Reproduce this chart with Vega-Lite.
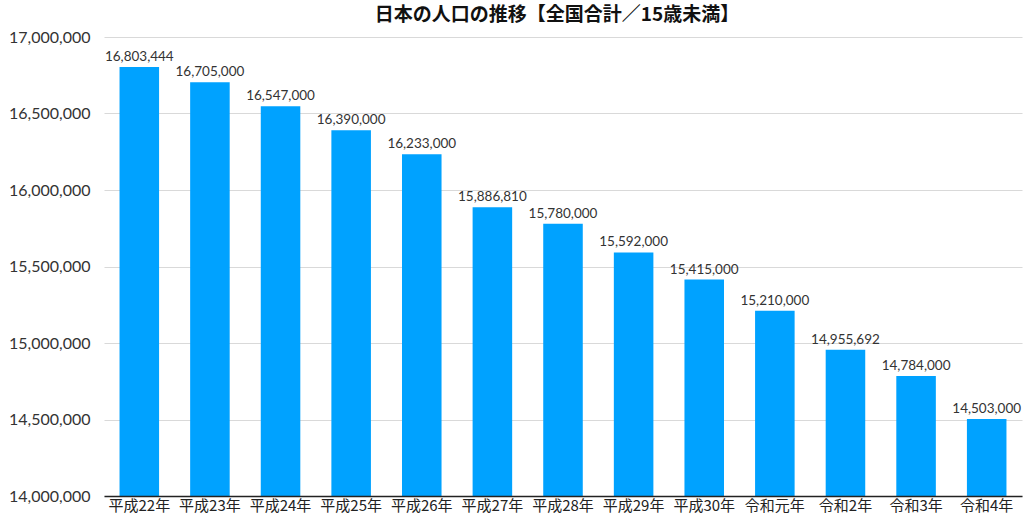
{
  "$schema": "https://vega.github.io/schema/vega-lite/v6.json",
  "width": 918,
  "height": 459,
  "autosize": {"type": "none"},
  "padding": {"left": 104, "top": 37, "right": 2, "bottom": 20},
  "background": "white",
  "title": {
    "text": "日本の人口の推移【全国合計／15歳未満】",
    "font": "Noto Sans CJK JP",
    "fontSize": 19,
    "fontWeight": "bold",
    "color": "#111",
    "anchor": "middle",
    "frame": "group",
    "dx": -6,
    "offset": 4
  },
  "data": {
    "values": [
      {"year": "平成22年", "pop": 16803444},
      {"year": "平成23年", "pop": 16705000},
      {"year": "平成24年", "pop": 16547000},
      {"year": "平成25年", "pop": 16390000},
      {"year": "平成26年", "pop": 16233000},
      {"year": "平成27年", "pop": 15886810},
      {"year": "平成28年", "pop": 15780000},
      {"year": "平成29年", "pop": 15592000},
      {"year": "平成30年", "pop": 15415000},
      {"year": "令和元年", "pop": 15210000},
      {"year": "令和2年", "pop": 14955692},
      {"year": "令和3年", "pop": 14784000},
      {"year": "令和4年", "pop": 14503000}
    ]
  },
  "encoding": {
    "x": {
      "field": "year",
      "type": "nominal",
      "sort": null,
      "scale": {"paddingInner": 0.44, "paddingOuter": 0.22},
      "axis": {
        "title": null,
        "labelAngle": 0,
        "labelFont": "Noto Sans CJK JP",
        "labelFontSize": 15,
        "labelColor": "#222",
        "labelBaseline": "top",
        "labelPadding": 2,
        "ticks": false,
        "tickSize": 0,
        "domainColor": "#222",
        "domainWidth": 1.5,
        "zindex": 1
      }
    },
    "y": {
      "field": "pop",
      "type": "quantitative",
      "scale": {"domain": [14000000, 17000000], "zero": false, "nice": false},
      "axis": {
        "title": null,
        "values": [14000000, 14500000, 15000000, 15500000, 16000000, 16500000, 17000000],
        "format": ",d",
        "labelFont": "Lato",
        "labelFontSize": 16,
        "labelColor": "#333",
        "labelPadding": 14,
        "ticks": false,
        "tickSize": 0,
        "domain": false,
        "gridColor": "#d9d9d9",
        "gridWidth": 1
      }
    }
  },
  "layer": [
    {"mark": {"type": "bar", "color": "#00A2FF", "clip": true}},
    {
      "mark": {
        "type": "text",
        "baseline": "bottom",
        "dy": -3,
        "font": "Lato",
        "fontSize": 13.5,
        "color": "#333"
      },
      "encoding": {"text": {"field": "pop", "type": "quantitative", "format": ",d"}}
    }
  ],
  "config": {"view": {"stroke": null}}
}
